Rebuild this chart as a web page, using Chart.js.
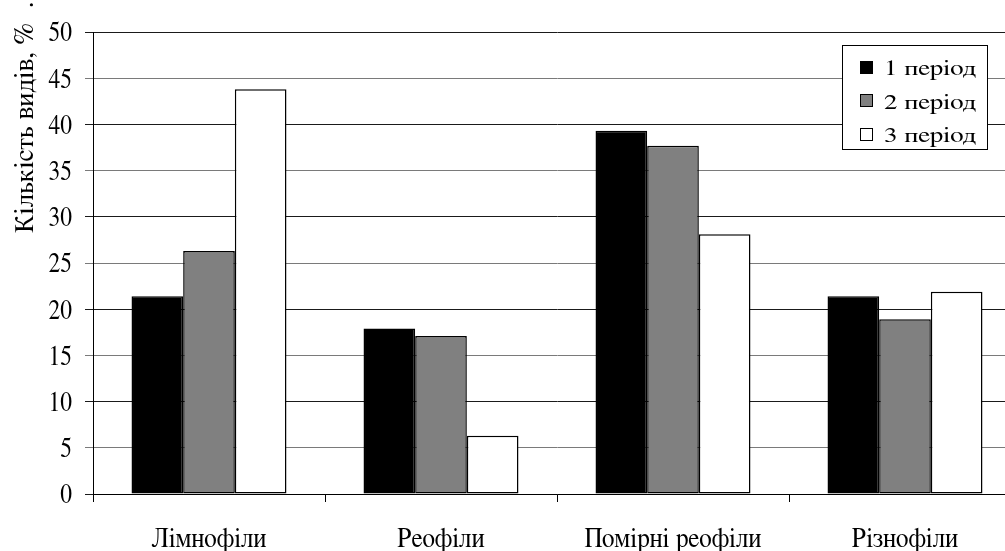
<!DOCTYPE html>
<html lang="uk">
<head>
<meta charset="utf-8">
<script src="https://cdn.jsdelivr.net/npm/chart.js@4/dist/chart.umd.min.js"></script>
<style>
  html, body { margin: 0; padding: 0; background: #fff; overflow: hidden; }
  #wrap { position: absolute; left: 0; top: 0; width: 1026px; height: 551px; }
</style>
</head>
<body>
<div id="wrap"><canvas id="c" width="1026" height="551"></canvas></div>
<script>
// Ecological groups of species and their share per period, %
const categories = ['Лімнофіли', 'Реофіли', 'Помірні реофіли', 'Різнофіли'];
const period1 = [21.4, 17.9, 39.3, 21.4];
const period2 = [26.3, 17.1, 37.7, 18.9];
const period3 = [43.8, 6.3, 28.1, 21.9];
const seriesNames = ['1 період', '2 період', '3 період'];
const yTicks = [0, 5, 10, 15, 20, 25, 30, 35, 40, 45, 50];
const yTitle = 'Кількість видів, %';

const serif = 'FreeSerif, "Liberation Serif", serif';
const fills = ['#000000', '#808080', '#ffffff'];

// draws a string squeezed or stretched along its own direction
function textScaled(ctx, str, x, y, sx, align) {
  ctx.save();
  ctx.translate(x, y);
  ctx.scale(sx, 1);
  ctx.textAlign = align;
  ctx.fillText(str, 0, 0);
  ctx.restore();
}

// Axis labels, Y-axis title and the boxed legend drawn onto the canvas
const decorations = {
  id: 'decorations',
  afterDraw(chart) {
    const ctx = chart.ctx;
    const xs = chart.scales.x, ys = chart.scales.y;
    ctx.save();
    ctx.fillStyle = '#000';

    // category labels
    ctx.font = '28px ' + serif;
    ctx.textBaseline = 'alphabetic';
    categories.forEach((c, i) => {
      textScaled(ctx, c, xs.getPixelForTick(i), 547, 0.9, 'center');
    });

    // rotated Y-axis title, trailing dot near the top edge
    ctx.font = '27px ' + serif;
    const w = ctx.measureText(yTitle).width;
    ctx.save();
    ctx.translate(33, 128);
    ctx.rotate(-Math.PI / 2);
    ctx.scale(210 / w, 1);
    ctx.textAlign = 'center';
    ctx.fillText(yTitle, 0, 0);
    ctx.restore();
    ctx.save();
    ctx.translate(33, 5);
    ctx.rotate(-Math.PI / 2);
    ctx.textAlign = 'center';
    ctx.fillText('.', 0, 0);
    ctx.restore();

    // value labels on the Y axis
    ctx.font = '28px ' + serif;
    ctx.textBaseline = 'middle';
    ys.ticks.forEach(t => {
      textScaled(ctx, String(t.value), 72, ys.getPixelForValue(t.value) + 1, 0.84, 'right');
    });

    // legend box
    const bx = 842, by = 45, bw = 145, bh = 104;
    ctx.fillStyle = '#fff';
    ctx.fillRect(bx, by, bw, bh);
    ctx.strokeStyle = '#000';
    ctx.lineWidth = 1;
    ctx.strokeRect(bx + 0.5, by + 0.5, bw, bh);
    ctx.font = '21px ' + serif;
    ctx.textBaseline = 'alphabetic';
    const labelW = ctx.measureText(seriesNames[0]).width;
    chart.data.datasets.forEach((ds, i) => {
      const cy = 67 + i * 33.5;
      ctx.fillStyle = ds.backgroundColor;
      ctx.fillRect(860, Math.round(cy - 6.5), 13, 13);
      ctx.strokeStyle = '#000';
      ctx.strokeRect(860.5, Math.round(cy - 6.5) + 0.5, 12, 12);
      ctx.fillStyle = '#000';
      textScaled(ctx, ds.label, 884, Math.round(cy + 8), 92 / labelW, 'left');
    });
    ctx.restore();
  }
};

const seriesData = [period1, period2, period3];

const chart = new Chart(document.getElementById('c'), {
  type: 'bar',
  data: {
    labels: categories,
    datasets: seriesNames.map((name, i) => ({
      label: name,
      data: seriesData[i],
      backgroundColor: fills[i],
      borderColor: '#000',
      borderWidth: 1.5,
      borderSkipped: false,
      categoryPercentage: 0.668,
      barPercentage: 1
    }))
  },
  options: {
    responsive: false,
    animation: false,
    events: [],
    layout: { padding: { top: 32, right: 5, left: 0, bottom: 0 } },
    plugins: { legend: { display: false }, tooltip: { enabled: false } },
    scales: {
      x: {
        offset: true,
        border: { display: true, color: '#000', width: 1 },
        grid: { display: true, drawOnChartArea: false, drawTicks: true, tickLength: 8, color: '#000', offset: true },
        ticks: { color: 'rgba(0,0,0,0)', font: { size: 12 }, padding: 16, maxRotation: 0 },
        afterFit(s) { s.height = 57; }
      },
      y: {
        min: 0,
        max: 50,
        border: { display: true, color: '#000', width: 1 },
        grid: {
          color: (c) => (c.index % 2 === 0 ? '#1a1a1a' : '#7a7a7a'),
          tickLength: 8,
          drawTicks: true
        },
        afterBuildTicks(s) { s.ticks = yTicks.map(v => ({ value: v })); },
        ticks: { color: 'rgba(0,0,0,0)', font: { size: 12 }, padding: 13 },
        afterFit(s) { s.width = 93; }
      }
    }
  },
  plugins: [decorations]
});

// repaint once system fonts are settled
if (document.fonts && document.fonts.ready) {
  document.fonts.ready.then(() => chart.draw());
}
setTimeout(() => chart.draw(), 200);
</script>
</body>
</html>
